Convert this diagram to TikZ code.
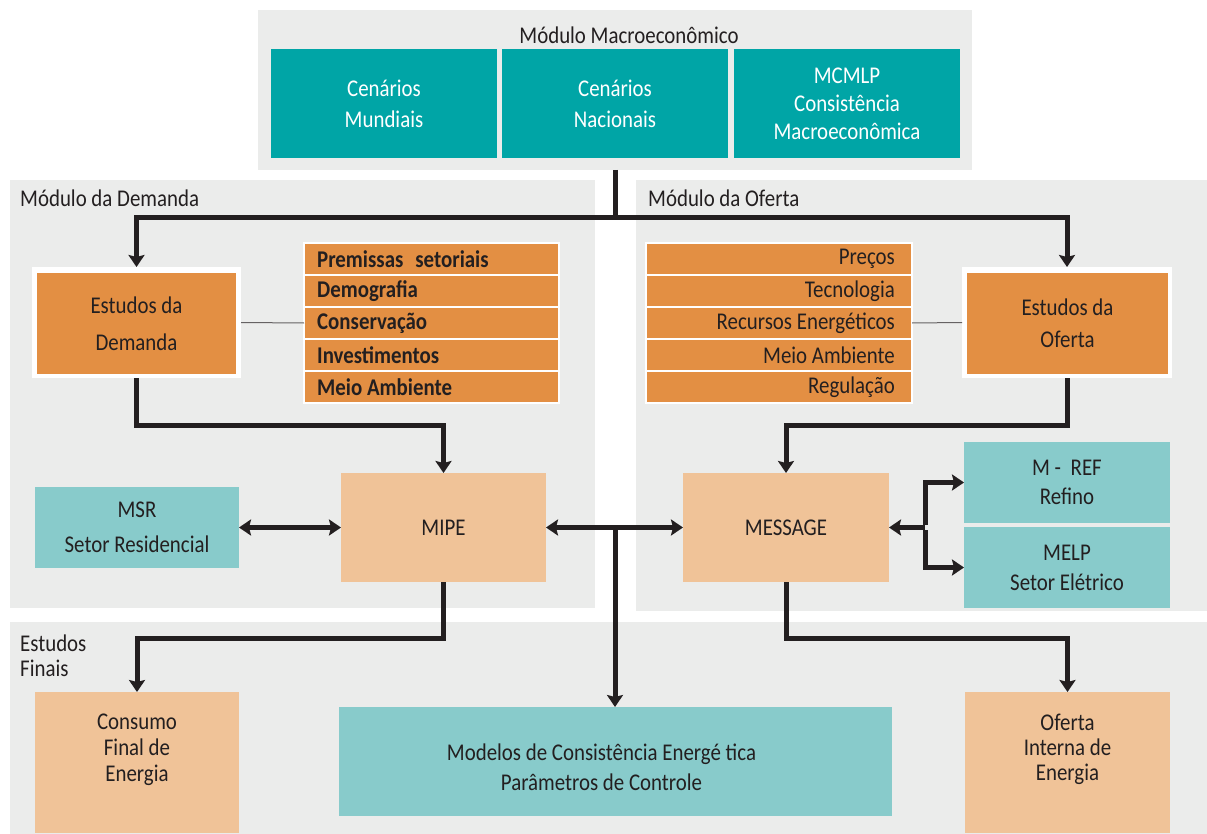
\documentclass[tikz,border=0pt]{standalone}
\usepackage{fontspec}
\setmainfont{Carlito}[FakeStretch=0.87]
\usetikzlibrary{arrows.meta}
\definecolor{panel}{HTML}{EBECEB}
\definecolor{tealdark}{HTML}{00A5A6}
\definecolor{orangebox}{HTML}{E38F43}
\definecolor{peach}{HTML}{F0C398}
\definecolor{teallight}{HTML}{88CBCB}
\definecolor{ink}{HTML}{231F20}
\newcommand\mybox[7]{%
  \pgfmathsetmacro\myboxw{#4-#2}\pgfmathsetmacro\myboxh{#5-#3}%
  \node[#6, minimum width=\myboxw pt, minimum height=\myboxh pt, anchor=north west, inner sep=0pt, outer sep=0pt] (#1) at (#2,#3) {#7};}
\tikzset{
  fs/.style={font=\fontsize{24}{#1}\selectfont},
  pnl/.style={fill=panel},
  title/.style={text=ink, inner sep=0pt, font=\fontsize{24}{25}\selectfont, align=left},
  macro/.style={fill=tealdark, text=white, align=center},
  ora/.style={fill=orangebox, text=ink, align=center},
  frame/.style={fill=white},
  pch/.style={fill=peach, text=ink, align=center},
  tlt/.style={fill=teallight, text=ink, align=center},
  row/.style={fill=orangebox, draw=white, line width=1.5pt},
  lt/.style={text=ink, inner sep=0pt, font=\fontsize{24}{25}\selectfont},
  arr/.style={line width=5pt, draw=ink, -{Stealth[length=12pt,width=16pt,inset=2pt]}},
  darr/.style={line width=5pt, draw=ink, {Stealth[length=12pt,width=16pt,inset=2pt]}-{Stealth[length=12pt,width=16pt,inset=2pt]}},
  thin/.style={line width=1pt, draw=ink!70},
}
\begin{document}
\begin{tikzpicture}[x=1pt,y=-1pt]
\useasboundingbox (0,0) rectangle (1207,834);
% panels
\mybox{pmacro}{258}{10}{972}{170}{pnl}{}
\mybox{pdem}{10}{180}{595}{608}{pnl}{}
\mybox{pofe}{636}{180}{1207}{611}{pnl}{}
\mybox{pfin}{10}{622}{1207}{834}{pnl}{}
% titles
\node[title] (tmacro) at (629,35) {Módulo Macroeconômico};
\node[title, anchor=west] (tdem) at (20,198) {Módulo da Demanda};
\node[title, anchor=west] (tofe) at (648,198) {Módulo da Oferta};
\node[title, anchor=north west] (tfin) at (20,635) {Estudos\\Finais};
% macro boxes
\mybox{cm}{271}{49}{497}{158}{macro,fs=31}{Cenários\\Mundiais}
\mybox{cn}{502}{49}{728}{158}{macro,fs=31}{Cenários\\Nacionais}
\mybox{mc}{734}{49}{960}{158}{macro,fs=28}{MCMLP\\Consistência\\Macroeconômica}
% Estudos da Demanda
\mybox{edfr}{32}{267}{241}{378}{frame}{}
\mybox{ed}{37}{273}{236}{374}{ora,fs=37}{Estudos da\\Demanda}
% Estudos da Oferta
\mybox{eofr}{962}{267}{1172}{378}{frame}{}
\mybox{eo}{967}{273}{1168}{374}{ora,fs=32}{Estudos da\\Oferta}
% demand list
\mybox{d1}{304}{243}{559}{275}{row}{}
\mybox{d2}{304}{275}{559}{307}{row}{}
\mybox{d3}{304}{307}{559}{339}{row}{}
\mybox{d4}{304}{339}{559}{371}{row}{}
\mybox{d5}{304}{371}{559}{403}{row}{}
\node[lt, anchor=west] (d1t) at ([xshift=13pt]d1.west) {\bfseries Premissas\hspace{0.5em}setoriais};
\node[lt, anchor=west] (d2t) at ([xshift=13pt]d2.west) {\bfseries Demografia};
\node[lt, anchor=west] (d3t) at ([xshift=13pt]d3.west) {\bfseries Conservação};
\node[lt, anchor=west] (d4t) at ([xshift=13pt]d4.west) {\bfseries Investimentos};
\node[lt, anchor=west] (d5t) at ([xshift=13pt]d5.west) {\bfseries Meio Ambiente};
% supply list
\mybox{o1}{646}{243}{912}{275}{row}{}
\mybox{o2}{646}{275}{912}{307}{row}{}
\mybox{o3}{646}{307}{912}{339}{row}{}
\mybox{o4}{646}{339}{912}{371}{row}{}
\mybox{o5}{646}{371}{912}{403}{row}{}
\node[lt, anchor=east] (o1t) at ([xshift=-17pt]o1.east) {Preços};
\node[lt, anchor=east] (o2t) at ([xshift=-17pt]o2.east) {Tecnologia};
\node[lt, anchor=east] (o3t) at ([xshift=-17pt]o3.east) {Recursos Energéticos};
\node[lt, anchor=east] (o4t) at ([xshift=-17pt]o4.east) {Meio Ambiente};
\node[lt, anchor=east] (o5t) at ([xshift=-17pt]o5.east) {Regulação};
% middle boxes
\mybox{msr}{35}{487}{239}{568}{tlt,fs=35}{MSR\\Setor Residencial}
\mybox{mipe}{341}{473}{546}{582}{pch,fs=30}{MIPE}
\mybox{msg}{683}{473}{889}{582}{pch,fs=30}{MESSAGE}
\mybox{mref}{964}{442}{1170}{523}{tlt,fs=29}{M -\hspace{0.4em}REF\\Refino}
\mybox{melp}{964}{527}{1170}{608}{tlt,fs=30}{MELP\\Setor Elétrico}
% final boxes
\mybox{cons}{35}{692}{239}{833}{pch}{}
\node[align=center, text=ink, fs=26] (const) at ([yshift=13pt]cons.center) {Consumo\\Final de\\Energia};
\mybox{mod}{339}{707}{892}{816}{tlt}{}
\node[align=center, text=ink, fs=30] (modt) at ([xshift=-14pt,yshift=-6pt]mod.center) {Modelos de Consistência Energé tica\\Parâmetros de Controle};
\mybox{oi}{965}{692}{1170}{833}{pch}{}
\node[align=center, text=ink, fs=25] (oit) at ([yshift=13pt]oi.center) {Oferta\\Interna de\\Energia};
% connectors
\coordinate (trunk) at (615,218);
\draw[line width=5pt, draw=ink] (pmacro.south -| trunk) -- (trunk);
\draw[arr] (trunk) -| (edfr.north);
\draw[arr] (trunk) -| (eofr.north);
\draw[thin] (edfr.east) -- (d3.west);
\draw[thin] (o3.east) -- (eofr.west);
\draw[arr] (edfr.south) -- ++(0,47) -| (mipe.north);
\draw[arr] (eofr.south) -- ++(0,47) -| (msg.north);
\draw[darr] (msr.east) -- (mipe.west);
\draw[darr] (mipe.east) -- (msg.west);
\coordinate (jn) at (615,527.5);
\draw[arr] (jn) -- (mod.north -| jn);
\coordinate (br) at (925,527.5);
\draw[arr] (br) -- (msg.east);
\draw[arr] ([yshift=2.5pt]br) |- (mref.west);
\draw[arr] ([yshift=-2.5pt]br) |- (melp.west);
\draw[arr] (mipe.south) -- ++(0,56) -| (cons.north);
\draw[arr] (msg.south) -- ++(0,56) -| (oi.north);
\end{tikzpicture}
\end{document}
